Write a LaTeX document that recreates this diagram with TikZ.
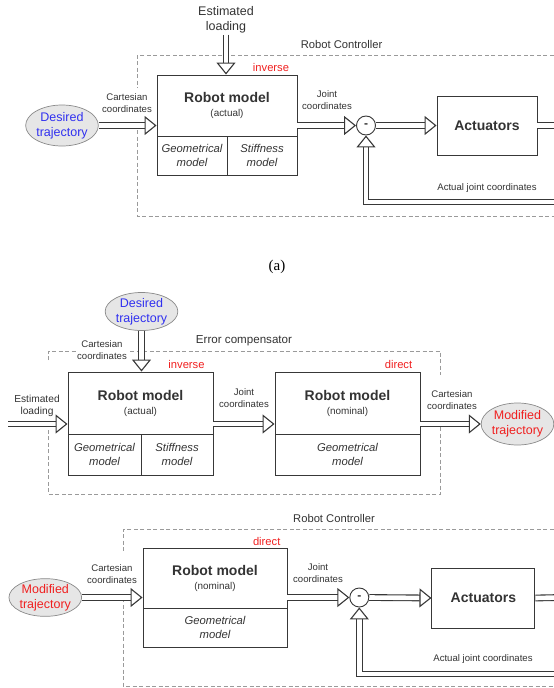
\documentclass[tikz,border=0pt]{standalone}
\usepackage{fontspec}
\setmainfont{Liberation Sans}
\newfontfamily\serifA{Liberation Serif}
\usetikzlibrary{arrows.meta,shapes.geometric}
\definecolor{txt}{HTML}{333333}
\definecolor{lc}{HTML}{383838}
\definecolor{dc}{HTML}{9A9A9A}
\definecolor{ef}{HTML}{E6E6E6}
\definecolor{eb}{HTML}{8A8A8A}
\definecolor{tblue}{HTML}{3030F0}
\definecolor{tred}{HTML}{F02020}
\newcommand\fsz[2]{\fontsize{#1}{#2}\selectfont}
\begin{document}
\begin{tikzpicture}[x=1pt,y=-1pt,
 box/.style={draw=lc, line width=0.9pt, inner sep=0pt, text=txt, align=center},
 topbox/.style={box, font=\fsz{9.9}{14}},
 cellbox/.style={box, font=\itshape\fsz{11.3}{14}},
 actbox/.style={box, font=\bfseries\fsz{14}{16}},
 lbl/.style={text=txt, align=center, inner sep=1pt, font=\fsz{9.6}{11.8}},
 redlbl/.style={text=tred, inner sep=0pt, font=\fsz{11.2}{13}},
 traj/.style={ellipse, draw=eb, fill=ef, line width=0.7pt, inner sep=0pt, align=center, font=\fsz{12.5}{15}},
 sumnode/.style={circle, draw=lc, line width=0.9pt, fill=white, minimum size=19pt, inner sep=0pt, text=txt, font=\bfseries\fsz{12}{14}},
 harrow/.style={draw=lc, line width=1.1pt, double=white, double distance=4.6pt, line join=miter, -{Triangle[open,length=12pt,width=19pt,line width=1.1pt]}},
 hline/.style={draw=lc, line width=1.1pt, double=white, double distance=4.6pt},
 dline/.style={draw=dc, line width=0.8pt, dash pattern=on 4pt off 2.5pt},
 title/.style={text=txt, inner sep=0pt},
]
\useasboundingbox (0,0) rectangle (554,688);

% ================= (a) =================
\draw[dline] (560,55) -- (137,55) -- (137,88);
\draw[dline] (137,130) -- (137,216) -- (560,216);
\node[title, font=\fsz{11.2}{13}] (ctrl1) at (341.6,44) {Robot Controller};
\node[lbl, font=\fsz{12.5}{15}] (load1) at (226,20) {Estimated\\loading};
\node[topbox, minimum width=140pt, minimum height=61pt] (rm1top) at (227,105.5) {{\bfseries\fsz{14}{14}Robot model}\\(actual)};
\node[cellbox, minimum width=70pt, minimum height=39pt] (rm1geo) at (192,155.5) {Geometrical\\model};
\node[cellbox, minimum width=70pt, minimum height=39pt] (rm1stf) at (262,155.5) {Stiffness\\model};
\node[redlbl] (inv1) at (271,67) {inverse};
\node[traj, minimum width=70pt, minimum height=41pt, text=tblue] (des1) at (62,125.5) {Desired\\trajectory};
\node[lbl] (cart1) at (127,103) {Cartesian\\coordinates};
\node[lbl] (joint1) at (327,100) {Joint\\coordinates};
\node[sumnode] (sum1) at (366,125.5) {-};
\node[actbox, minimum width=100pt, minimum height=59pt] (act1) at (487,125.5) {Actuators};
\node[lbl] (ajc1) at (487,188) {Actual joint coordinates};
\coordinate (out1) at (560,125.5);
\coordinate (fb1) at (560,202);
\draw[harrow] (load1.south) -- (load1.south |- rm1top.north);
\draw[harrow] (des1.east) -- (des1.east -| rm1top.west);
\draw[harrow] (rm1top.east |- sum1) -- (sum1.west);
\draw[harrow] (sum1.east) -- (act1.west);
\draw[hline] (act1.east) -- (out1);
\draw[harrow] (fb1) -| (sum1.south);
\node[inner sep=0pt, text=black, font=\serifA\fsz{15}{17}] (capa) at (277,267) {(a)};

% ================= (b) =================
\draw[dline] (48,360) -- (48,351) -- (440.5,351) -- (440.5,375);
\draw[dline] (440.5,427) -- (440.5,494) -- (48,494) -- (48,428);
\node[title, font=\fsz{11.6}{13}] (err) at (244,341) {Error compensator};
\node[traj, minimum width=71pt, minimum height=38pt, text=tblue] (des2) at (141.5,311.5) {Desired\\trajectory};
\node[lbl, fill=white] (cart2) at (102,350) {Cartesian\\coordinates};
\node[topbox, minimum width=145pt, minimum height=62pt] (rm2top) at (140.5,403) {{\bfseries\fsz{14}{14}Robot model}\\(actual)};
\node[cellbox, minimum width=73pt, minimum height=41pt] (rm2geo) at (104.5,454.5) {Geometrical\\model};
\node[cellbox, minimum width=72pt, minimum height=41pt] (rm2stf) at (177,454.5) {Stiffness\\model};
\node[redlbl] (inv2) at (186.5,364) {inverse};
\node[topbox, minimum width=145pt, minimum height=62pt] (rm3top) at (347.5,403) {{\bfseries\fsz{14}{14}Robot model}\\(nominal)};
\node[cellbox, minimum width=145pt, minimum height=41pt] (rm3geo) at (347.5,454.5) {Geometrical\\model};
\node[redlbl] (dir2) at (398.5,364) {direct};
\node[lbl, font=\fsz{10.2}{12}] (estl2) at (37,406) {Estimated\\loading};
\coordinate (in2) at (8,424);
\node[lbl] (joint2) at (244,398) {Joint\\coordinates};
\node[lbl] (cart3) at (452,400) {Cartesian\\coordinates};
\node[traj, minimum width=71pt, minimum height=42pt, text=tred] (mod2) at (517.5,424) {Modified\\trajectory};
\draw[harrow] (des2.south) -- (des2.south |- rm2top.north);
\draw[harrow] (in2) -- (in2 -| rm2top.west);
\draw[harrow] (rm2top.east |- in2) -- (rm3top.west |- in2);
\draw[harrow] (rm3top.east |- mod2) -- (mod2.west);

% ================= (c) =================
\draw[dline] (560,529) -- (123,529) -- (123,553);
\draw[dline] (123,598) -- (123,686) -- (560,686);
\node[title, font=\fsz{11.2}{13}] (ctrl3) at (334,518) {Robot Controller};
\node[topbox, minimum width=144pt, minimum height=60pt] (rm4top) at (215,578) {{\bfseries\fsz{14}{14}Robot model}\\(nominal)};
\node[cellbox, minimum width=144pt, minimum height=39pt] (rm4geo) at (215,627.5) {Geometrical\\model};
\node[redlbl] (dir3) at (266.7,541) {direct};
\node[traj, minimum width=71pt, minimum height=37pt, text=tred] (mod3) at (45.3,597.5) {Modified\\trajectory};
\node[lbl] (cart4) at (112,574) {Cartesian\\coordinates};
\node[lbl] (joint4) at (318,573) {Joint\\coordinates};
\node[sumnode] (sum2) at (359.3,597.5) {-};
\node[actbox, minimum width=103pt, minimum height=60pt] (act2) at (483.4,598) {Actuators};
\node[lbl] (ajc2) at (483,659) {Actual joint coordinates};
\coordinate (out2) at (560,597.5);
\coordinate (fb2) at (560,674);
\draw[harrow] (mod3.east) -- (mod3.east -| rm4top.west);
\draw[harrow] (rm4top.east |- sum2) -- (sum2.west);
\draw[harrow] (sum2.east) -- (act2.west);
\draw[hline] (act2.east) -- (out2);
\draw[harrow] (fb2) -| (sum2.south);
\end{tikzpicture}
\end{document}
